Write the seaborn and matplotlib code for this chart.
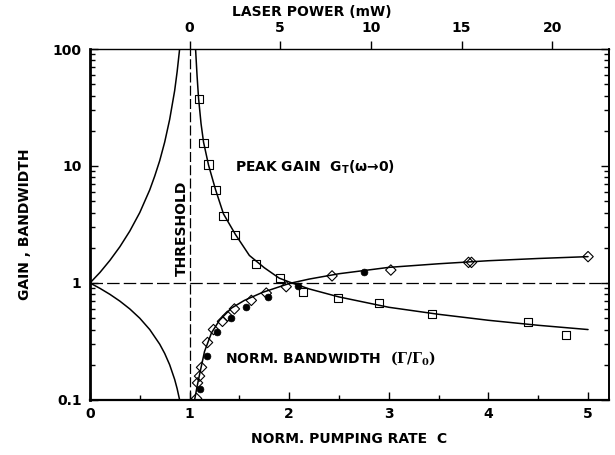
import numpy as np
import pandas as pd
import matplotlib
matplotlib.use("Agg")
import matplotlib.pyplot as plt
import seaborn as sns
from matplotlib.ticker import FixedLocator, MultipleLocator, LogLocator, FuncFormatter, NullFormatter

# ---------------- data ----------------
# theory curves below threshold
left_gain_C = [0.0, 0.1, 0.2, 0.3, 0.4, 0.5, 0.6, 0.65, 0.7, 0.75, 0.8, 0.85, 0.875, 0.9]
left_gain_G = [1.0, 1.23, 1.56, 2.04, 2.78, 4.0, 6.25, 8.2, 11.1, 16.0, 25.0, 44.0, 64.0, 100.0]
left_bw_C = [0.0, 0.1, 0.2, 0.3, 0.4, 0.5, 0.6, 0.7, 0.75, 0.8, 0.85, 0.875, 0.9]
left_bw_B = [1.0, 0.9, 0.8, 0.7, 0.6, 0.5, 0.4, 0.3, 0.25, 0.2, 0.15, 0.125, 0.1]

# theory curves above threshold
gain_C = [1.06, 1.075, 1.09, 1.115, 1.14, 1.19, 1.26, 1.34, 1.46, 1.6, 1.75, 1.9, 2.0,
          2.2, 2.5, 3.0, 3.5, 4.0, 4.5, 5.0]
gain_G = [100, 59, 38, 23, 16, 10.2, 6.3, 3.9, 2.6, 1.72, 1.35, 1.1, 1.02,
          0.89, 0.76, 0.62, 0.54, 0.48, 0.435, 0.40]
bw_C = [1.05, 1.075, 1.10, 1.15, 1.22, 1.30, 1.42, 1.55, 1.73, 2.0, 2.2, 2.5,
        3.0, 3.5, 4.0, 4.5, 5.0]
bw_B = [0.10, 0.13, 0.165, 0.26, 0.375, 0.48, 0.61, 0.71, 0.83, 0.99, 1.08, 1.20,
        1.36, 1.46, 1.55, 1.62, 1.68]

# measured points
sq_C = [1.09, 1.14, 1.19, 1.26, 1.34, 1.46, 1.67, 1.91, 2.14, 2.49, 2.90, 3.43, 4.40, 4.78]
sq_G = [37.6, 15.7, 10.3, 6.2, 3.76, 2.59, 1.46, 1.11, 0.84, 0.74, 0.68, 0.54, 0.46, 0.357]
dia_C = [1.07, 1.08, 1.10, 1.12, 1.18, 1.24, 1.33, 1.38, 1.45, 1.62, 1.77, 1.97,
         2.43, 3.02, 3.80, 3.83, 5.00]
dia_B = [0.103, 0.14, 0.16, 0.19, 0.31, 0.40, 0.47, 0.52, 0.60, 0.71, 0.82, 0.93,
         1.15, 1.29, 1.50, 1.50, 1.68]
dot_C = [1.10, 1.17, 1.28, 1.42, 1.57, 1.79, 2.09, 2.75]
dot_B = [0.125, 0.24, 0.38, 0.50, 0.62, 0.755, 0.95, 1.23]

# axis ticks
x_ticks = [0, 1, 2, 3, 4, 5]
y_ticks = [0.1, 1, 10, 100]
y_tick_labels = ["0.1", "1", "10", "100"]
power_ticks = [0, 5, 10, 15, 20]
mw_per_C = 1 / 0.182  # laser power (mW) per unit of pumping rate above threshold

# ---------------- style ----------------
sns.set_style("ticks")
plt.rcParams['font.family'] = ['DejaVu Sans']
plt.rcParams['font.weight'] = 'bold'
plt.rcParams['axes.labelweight'] = 'bold'
plt.rcParams['text.color'] = 'black'
plt.rcParams['axes.labelcolor'] = 'black'
plt.rcParams['xtick.color'] = 'black'
plt.rcParams['ytick.color'] = 'black'
plt.rcParams['xtick.labelcolor'] = 'black'
plt.rcParams['ytick.labelcolor'] = 'black'

fig = plt.figure(figsize=(6.15, 4.55), dpi=100)
ax = fig.add_axes([0.1463, 0.1209, 0.8439, 0.7714])

lw = 1.1
for cx, cy in [(left_gain_C, left_gain_G), (left_bw_C, left_bw_B),
               (gain_C, gain_G), (bw_C, bw_B)]:
    sns.lineplot(x=cx, y=cy, ax=ax, color="black", lw=lw, estimator=None,
                 sort=False, zorder=3)

ax.set_yscale("log")
ax.set_xlim(0, 5.21)
ax.set_ylim(0.1, 100)

ax.axvline(1, color="black", lw=0.9, ls=(0, (8, 2.6)), zorder=2)
ax.axhline(1, color="black", lw=0.9, ls=(0, (10, 3.3)), zorder=2)

sns.scatterplot(x=sq_C, y=sq_G, ax=ax, marker="s", s=34, color="black",
                edgecolor="black", linewidth=0.8, zorder=5)
ax.collections[-1].set_facecolor("none")
sns.scatterplot(x=dia_C, y=dia_B, ax=ax, marker="D", s=28, color="black",
                edgecolor="black", linewidth=0.8, zorder=5)
ax.collections[-1].set_facecolor("none")
sns.scatterplot(x=dot_C, y=dot_B, ax=ax, marker="o", s=24, color="black",
                edgecolor="black", linewidth=0.5, zorder=6)

# ticks
ax.xaxis.set_major_locator(FixedLocator(x_ticks))
ax.xaxis.set_minor_locator(MultipleLocator(0.5))
ax.yaxis.set_major_locator(FixedLocator(y_ticks))
ax.yaxis.set_minor_locator(LogLocator(base=10, subs=np.arange(2, 10)))
ax.yaxis.set_minor_formatter(NullFormatter())
ax.yaxis.set_major_formatter(FuncFormatter(lambda v, p: y_tick_labels[y_ticks.index(v)] if v in y_ticks else ""))
ax.tick_params(axis="both", which="both", direction="in", top=True, right=True,
               width=1.0, colors="black")
ax.tick_params(axis="x", which="major", length=6, pad=5, labelsize=10)
ax.tick_params(axis="x", which="minor", length=3.5)
ax.tick_params(axis="y", which="major", length=5.5, pad=6, labelsize=10)
ax.tick_params(axis="y", which="minor", length=3.5)
for t in ax.get_xticklabels() + ax.get_yticklabels():
    t.set_fontweight("bold")

for side, w in [("left", 2.0), ("bottom", 1.6), ("top", 1.0), ("right", 1.4)]:
    ax.spines[side].set_linewidth(w)
    ax.spines[side].set_color("black")

ax.set_xlabel("NORM. PUMPING RATE  C", fontsize=10, fontweight="bold", labelpad=8)
ax.set_ylabel("GAIN , BANDWIDTH", fontsize=10, fontweight="bold", labelpad=15)

# top axis: laser power
ax2 = ax.twiny()
lo, hi = ax.get_xlim()
ax2.set_xlim((lo - 1) * mw_per_C, (hi - 1) * mw_per_C)
ax2.xaxis.set_major_locator(FixedLocator(power_ticks))
ax2.xaxis.set_minor_locator(FixedLocator([]))
ax2.tick_params(axis="x", which="major", direction="out", length=6, width=1.0,
                pad=4, labelsize=10, colors="black")
for t in ax2.get_xticklabels():
    t.set_fontweight("bold")
for s in ax2.spines.values():
    s.set_visible(False)
ax2.set_xlabel("LASER POWER (mW)", fontsize=10, fontweight="bold")
ax2.xaxis.set_label_coords(0.428, 1.095)

# annotations
ax.text(1.456, 9.8, "PEAK GAIN  G$_\\mathbf{T}$(ω→0)", fontsize=10,
        fontweight="bold", ha="left", va="center")
ax.text(1.355, 0.229, "NORM. BANDWIDTH  $(\\Gamma/\\Gamma_\\mathbf{0})$", fontsize=10,
        fontweight="bold", ha="left", va="center", math_fontfamily="dejavuserif")
ax.text(0.92, 2.95, "THRESHOLD", fontsize=10, fontweight="bold", rotation=90,
        ha="center", va="center")

fig.savefig("out.png", dpi=100)
